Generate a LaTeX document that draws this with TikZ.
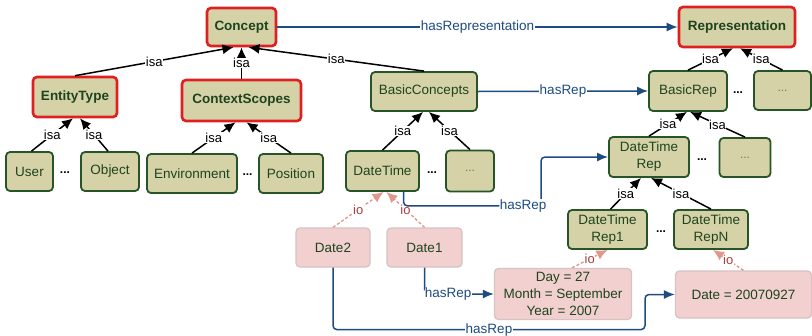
\documentclass[tikz,border=0pt]{standalone}
\usepackage{fontspec}
\setmainfont{Liberation Sans}
\usetikzlibrary{arrows.meta}
\definecolor{khaki}{RGB}{214,210,168}
\definecolor{gborder}{RGB}{40,85,40}
\definecolor{rborder}{RGB}{222,32,32}
\definecolor{gtext}{RGB}{30,68,30}
\definecolor{pinkfill}{RGB}{242,208,208}
\definecolor{pinkborder}{RGB}{215,195,195}
\definecolor{linkblue}{RGB}{30,75,130}
\definecolor{iopink}{RGB}{226,150,140}
\definecolor{iotext}{RGB}{170,60,60}
\definecolor{dotgray}{RGB}{110,120,100}
\tikzset{
  nodebase/.style={rounded corners=4pt, inner sep=1pt, align=center,
    font=\fontsize{13.5}{17}\selectfont, text=gtext},
  cls/.style={nodebase, draw=gborder, line width=1.8pt, fill=khaki},
  rootbox/.style={nodebase, draw=rborder, line width=2.6pt, fill=khaki,
    font=\fontsize{13.5}{17}\selectfont\bfseries},
  inst/.style={nodebase, draw=pinkborder, line width=1.3pt, fill=pinkfill},
  isa/.style={line width=1.5pt, black, -{Latex[length=11pt,width=10pt]}},
  isalab/.style={font=\fontsize{13}{15}\selectfont, text=black, fill=white, inner sep=0.6pt},
  hasrep/.style={line width=1.5pt, linkblue, -{Latex[length=11pt,width=9pt]}, rounded corners=4pt},
  replab/.style={font=\fontsize{13.5}{16}\selectfont, text=linkblue, fill=white, inner sep=0.6pt},
  io/.style={line width=1.3pt, iopink, dash pattern=on 3pt off 2pt, -{Latex[length=11pt,width=10pt]}},
  iolab/.style={font=\fontsize{13}{15}\selectfont, text=iotext, fill=white, inner sep=0.6pt},
  dotstxt/.style={font=\fontsize{12}{14}\selectfont\bfseries, text=black},
  boxdots/.style={text=dotgray, font=\fontsize{12}{14}\selectfont}
}
\begin{document}
\begin{tikzpicture}[x=1pt,y=-1pt]
\useasboundingbox[fill=white] (0,0) rectangle (812,335);
% top level
\node[rootbox, minimum width=69pt, minimum height=38pt] (Concept) at (241.5,27) {Concept};
\node[rootbox, minimum width=116pt, minimum height=40pt] (Representation) at (737,27) {Representation};
% second level
\node[rootbox, minimum width=84pt, minimum height=40pt] (EntityType) at (75,97) {EntityType};
\node[rootbox, minimum width=119pt, minimum height=41pt] (ContextScopes) at (241.5,100.5) {ContextScopes};
\node[cls, minimum width=106pt, minimum height=39pt] (BasicConcepts) at (424,91.5) {BasicConcepts};
\node[cls, minimum width=78pt, minimum height=40pt] (BasicRep) at (688,91) {BasicRep};
\node[dotstxt] (d1) at (738,93) {...};
\node[cls, minimum width=57pt, minimum height=39pt] (RepMore) at (782.5,90.5) {\color{dotgray}\fontsize{12}{14}\selectfont...};
% third level
\node[cls, minimum width=47pt, minimum height=39pt] (User) at (29.5,171.5) {User};
\node[dotstxt] (d2) at (65,173) {...};
\node[cls, minimum width=58pt, minimum height=39pt] (Object) at (110,171.5) {Object};
\node[cls, minimum width=90pt, minimum height=39pt] (Environment) at (192,173.5) {Environment};
\node[dotstxt] (d3) at (247.5,175) {...};
\node[cls, minimum width=64pt, minimum height=39pt] (Position) at (291,173.5) {Position};
\node[cls, minimum width=73pt, minimum height=40pt] (DateTime) at (382.5,171) {DateTime};
\node[dotstxt] (d4) at (432,173) {...};
\node[cls, minimum width=48pt, minimum height=41pt] (BCMore) at (470,171) {\color{dotgray}\fontsize{12}{14}\selectfont...};
\node[cls, minimum width=80pt, minimum height=40pt] (DateTimeRep) at (649,157) {DateTime\\Rep};
\node[dotstxt] (d5) at (702,160) {...};
\node[cls, minimum width=51pt, minimum height=39pt] (BRMore) at (745,157.5) {\color{dotgray}\fontsize{12}{14}\selectfont...};
% fourth level
\node[cls, minimum width=79pt, minimum height=39pt] (DTRep1) at (607.5,229.5) {DateTime\\Rep1};
\node[dotstxt] (d6) at (661,232) {...};
\node[cls, minimum width=74pt, minimum height=39pt] (DTRepN) at (711,229.5) {DateTime\\RepN};
% instances
\node[inst, minimum width=74pt, minimum height=39pt] (Date2) at (333,247.5) {Date2};
\node[inst, minimum width=75pt, minimum height=39pt] (Date1) at (424.5,247.5) {Date1};
\node[inst, minimum width=137pt, minimum height=51pt] (Day) at (563,294) {Day = 27\\Month = September\\Year = 2007};
\node[inst, minimum width=136pt, minimum height=47pt] (DateBox) at (743.5,294.5) {Date = 20070927};
% isa edges
\draw[isa] (EntityType.north) -- node[isalab]{isa} ([xshift=-8pt]Concept.south);
\draw[isa] (ContextScopes.north) -- node[isalab]{isa} (Concept.south);
\draw[isa] (BasicConcepts.north) -- node[isalab]{isa} ([xshift=7pt]Concept.south);
\draw[isa] ([xshift=2pt]User.north) -- node[isalab]{isa} ([xshift=-2pt]EntityType.south);
\draw[isa] ([xshift=-2pt]Object.north) -- node[isalab]{isa} ([xshift=5pt]EntityType.south);
\draw[isa] (Environment.north) -- node[isalab]{isa} ([xshift=-6pt]ContextScopes.south);
\draw[isa] (Position.north) -- node[isalab]{isa} ([xshift=5pt]ContextScopes.south);
\draw[isa] (DateTime.north) -- node[isalab]{isa} ([xshift=-1pt]BasicConcepts.south);
\draw[isa] (BCMore.north) -- node[isalab]{isa} ([xshift=5pt]BasicConcepts.south);
\draw[isa] (BasicRep.north) -- node[isalab]{isa} ([xshift=-4pt]Representation.south);
\draw[isa] (RepMore.north) -- node[isalab]{isa} ([xshift=3pt]Representation.south);
\draw[isa] (DateTimeRep.north) -- node[isalab]{isa} ([xshift=-1pt]BasicRep.south);
\draw[isa] (BRMore.north) -- node[isalab]{isa} ([xshift=2pt]BasicRep.south);
\draw[isa] ([xshift=3pt]DTRep1.north) -- node[isalab]{isa} ([xshift=-8pt]DateTimeRep.south);
\draw[isa] (DTRepN.north) -- node[isalab]{isa} ([xshift=2pt]DateTimeRep.south);
% io edges
\draw[io] (Date2.north) -- node[iolab]{io} ([xshift=1pt]DateTime.south);
\draw[io] (Date1.north) -- node[iolab]{io} ([xshift=4pt]DateTime.south);
\draw[io] ([xshift=9pt]Day.north) -- node[iolab]{io} (DTRep1.south);
\draw[io] (DateBox.north) -- node[iolab]{io} ([xshift=2pt]DTRepN.south);
% hasRep edges
\draw[hasrep] (Concept.east) -- node[replab]{hasRepresentation} (Representation.west);
\draw[hasrep] (BasicConcepts.east) -- node[replab]{hasRep} (BasicRep.west);
\draw[hasrep] ([xshift=21pt]DateTime.south) -- ++(0,14) -- node[replab, pos=0.87]{hasRep} ++(137.5,0) |- (DateTimeRep.west);
\draw[hasrep] (Date1.south) |- node[replab, pos=0.67]{hasRep} (Day.west);
\draw[hasrep] (Date2.south) -- ++(0,62) -- node[replab, pos=0.5]{hasRep} ++(312,0) |- (DateBox.west);
\end{tikzpicture}
\end{document}
